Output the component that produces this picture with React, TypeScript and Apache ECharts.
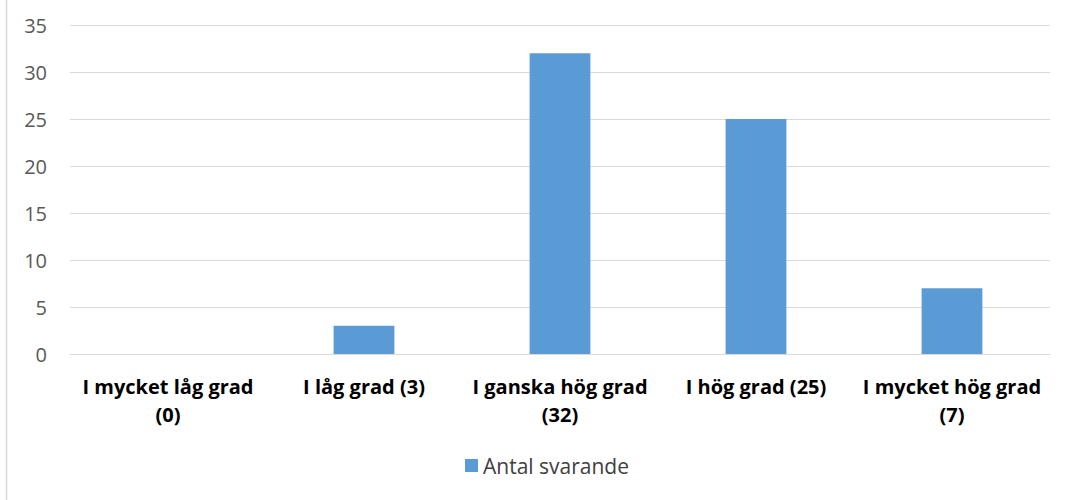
import React, { useEffect, useRef } from "react";
import * as echarts from "echarts";

const categories = [
  "I mycket låg grad\n(0)",
  "I låg grad (3)",
  "I ganska hög grad\n(32)",
  "I hög grad (25)",
  "I mycket hög grad\n(7)",
];
const values = [0, 3, 32, 25, 7];
const seriesName = "Antal svarande";

export default function App() {
  const ref = useRef<HTMLDivElement>(null);
  useEffect(() => {
    document.body.style.margin = "0";
    const chart = echarts.init(ref.current!, undefined, { renderer: "svg" });
    chart.setOption({
      animation: false,
      backgroundColor: "#ffffff",
      textStyle: { fontFamily: "Open Sans" },
      grid: { left: 70, right: 16, top: 25, bottom: 146, containLabel: false },
      graphic: [
        {
          type: "line",
          shape: { x1: 6.5, y1: 0, x2: 6.5, y2: 500 },
          style: { stroke: "#d9d9d9", lineWidth: 1.5 },
        },
      ],
      xAxis: {
        type: "category",
        data: categories,
        axisLine: { show: true, lineStyle: { color: "#d9d9d9", width: 1 } },
        axisTick: { show: false },
        axisLabel: {
          color: "#000000",
          fontWeight: "bold",
          fontSize: 20,
          fontFamily: "Open Sans",
          lineHeight: 28,
          margin: 18,
          interval: 0,
        },
      },
      yAxis: {
        type: "value",
        min: 0,
        max: 35,
        interval: 5,
        axisLine: { show: false },
        axisTick: { show: false },
        splitLine: { lineStyle: { color: "#d9d9d9", width: 1 } },
        axisLabel: { color: "#595959", fontSize: 20, fontFamily: "Open Sans", margin: 23 },
      },
      legend: {
        bottom: 19,
        left: 460,
        icon: "rect",
        itemWidth: 13,
        itemHeight: 13,
        itemGap: 4,
        textStyle: { color: "#404040", fontSize: 21, fontFamily: "Open Sans" },
        data: [seriesName],
      },
      series: [
        {
          name: seriesName,
          type: "bar",
          data: values,
          barWidth: "31%",
          itemStyle: { color: "#5b9bd5" },
        },
      ],
    });
    return () => chart.dispose();
  }, []);
  return <div ref={ref} style={{ width: 1066, height: 500 }} />;
}
